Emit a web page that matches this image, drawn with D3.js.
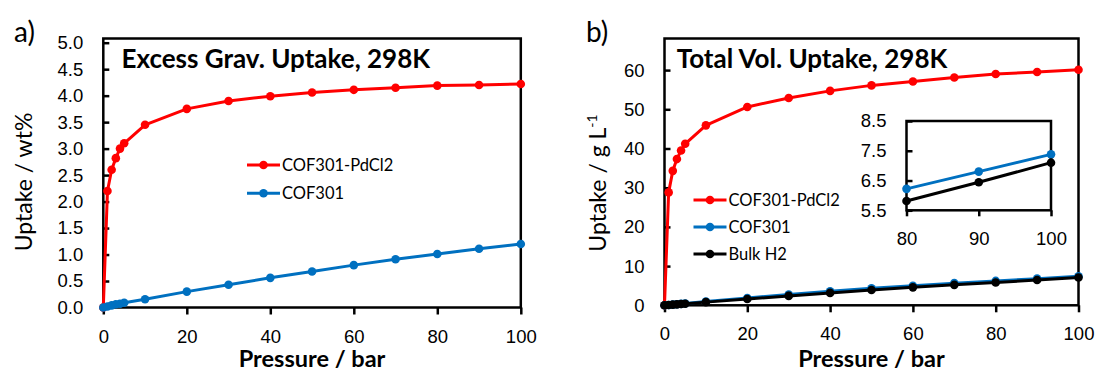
<!DOCTYPE html>
<html>
<head>
<meta charset="utf-8">
<script src="https://cdn.jsdelivr.net/npm/d3@7"></script>
<style>
  body { margin: 0; background: #fff; }
  svg { display: block; font-family: Lato, "Open Sans", sans-serif; }
</style>
</head>
<body>
<svg id="chart" width="1096" height="368"></svg>
<script>
// pressure points (bar), shared by every series
const pressure = [0, 1, 2, 3, 4, 5, 10, 20, 30, 40, 50, 60, 70, 80, 90, 100];

// a) excess gravimetric uptake, wt%
const gravPdCl2 = [0, 2.2, 2.6, 2.82, 3.0, 3.1, 3.45, 3.75, 3.9, 3.99, 4.06, 4.11, 4.15, 4.19, 4.2, 4.22];
const gravCOF301 = [0, 0.02, 0.04, 0.06, 0.07, 0.09, 0.155, 0.3, 0.43, 0.56, 0.68, 0.8, 0.91, 1.01, 1.11, 1.2];

// b) total volumetric uptake, g/L
const volPdCl2 = [0, 28.8, 34.3, 37.3, 39.5, 41.2, 45.9, 50.6, 52.9, 54.7, 56.1, 57.1, 58.1, 59.0, 59.5, 60.1];
const volCOF301 = [0, 0.09, 0.18, 0.27, 0.36, 0.45, 0.95, 1.85, 2.75, 3.6, 4.35, 5.0, 5.65, 6.22, 6.8, 7.38];
const volBulkH2 = [0, 0.08, 0.16, 0.24, 0.33, 0.41, 0.81, 1.6, 2.4, 3.16, 3.9, 4.58, 5.22, 5.81, 6.44, 7.1];

const xTicks = [0, 20, 40, 60, 80, 100];
const gravTicks = [0, 0.5, 1, 1.5, 2, 2.5, 3, 3.5, 4, 4.5, 5];
const volTicks = [0, 10, 20, 30, 40, 50, 60];
const insetXTicks = [80, 90, 100];
const insetYTicks = [5.5, 6.5, 7.5, 8.5];

const RED = "#ff0000", BLUE = "#0070c0", BLACK = "#000000";

const svg = d3.select("#chart");

function drawSeries(g, x, y, xs, ys, color, r) {
  const pts = xs.map((p, i) => [p, ys[i]]).filter(d => x.domain()[0] <= d[0]);
  g.append("path")
    .datum(pts)
    .attr("d", d3.line().x(d => x(d[0])).y(d => y(d[1])))
    .attr("fill", "none")
    .attr("stroke", color)
    .attr("stroke-width", 3)
    .attr("stroke-linejoin", "round");
  g.selectAll(null)
    .data(pts)
    .enter().append("circle")
    .attr("cx", d => x(d[0]))
    .attr("cy", d => y(d[1]))
    .attr("r", r)
    .attr("fill", color);
}

function drawLegend(g, x0, y0, gap, items) {
  items.forEach((it, i) => {
    const yy = y0 + i * gap;
    g.append("line")
      .attr("x1", x0).attr("x2", x0 + 33)
      .attr("y1", yy).attr("y2", yy)
      .attr("stroke", it.color).attr("stroke-width", 3);
    g.append("circle")
      .attr("cx", x0 + 16.5).attr("cy", yy).attr("r", 4.3)
      .attr("fill", it.color);
    g.append("text")
      .attr("x", x0 + 35).attr("y", yy + 6)
      .attr("font-size", 16.5)
      .text(it.name);
  });
}

function drawPanel(opt) {
  const g = svg.append("g");
  const x = d3.scaleLinear().domain([0, 100]).range([opt.left, opt.right]);
  const y = d3.scaleLinear().domain(opt.yDomain).range(opt.yRange);

  // x axis, ticks outside
  const xa = g.append("g")
    .attr("transform", "translate(0," + opt.yRange[0] + ")")
    .call(d3.axisBottom(x).tickValues(xTicks).tickSize(7).tickSizeOuter(0).tickPadding(15));
  xa.select(".domain").remove();
  xa.selectAll("line").attr("stroke-width", 2.5);
  xa.selectAll("text").attr("font-size", 18.5).attr("font-family", null).attr("fill", "#000");

  // y axis, ticks inside
  const ya = g.append("g")
    .attr("transform", "translate(" + opt.left + ",0)")
    .call(d3.axisLeft(y).tickValues(opt.yTicks).tickFormat(opt.yFormat).tickSize(-6).tickSizeOuter(0).tickPadding(20));
  ya.select(".domain").remove();
  ya.selectAll("line").attr("stroke-width", 2.5);
  ya.selectAll("text").attr("font-size", 18.5).attr("font-family", null).attr("fill", "#000");

  // frame
  g.append("rect")
    .attr("x", opt.left).attr("y", opt.top)
    .attr("width", opt.right - opt.left).attr("height", opt.yRange[0] - opt.top)
    .attr("fill", "none").attr("stroke", "#000").attr("stroke-width", 2.5);

  opt.series.forEach(s => drawSeries(g, x, y, pressure, s.values, s.color, 4.3));

  g.append("text")
    .attr("x", opt.titleX).attr("y", 68)
    .attr("font-size", 26).attr("font-weight", "bold")
    .text(opt.title);

  g.append("text")
    .attr("x", opt.tagX).attr("y", 42)
    .attr("font-size", 28)
    .text(opt.tag);

  g.append("text")
    .attr("x", (opt.left + opt.right) / 2).attr("y", 367)
    .attr("text-anchor", "middle")
    .attr("font-size", 23.5).attr("font-weight", "bold")
    .text("Pressure / bar");

  const yt = g.append("text")
    .attr("transform", "translate(" + opt.yLabelX + "," + opt.yLabelY + ") rotate(-90)")
    .attr("text-anchor", "middle")
    .attr("font-size", 23);
  yt.append("tspan").text(opt.yLabel);
  if (opt.yLabelSup) {
    yt.append("tspan").attr("dy", -9).attr("font-size", 14).text(opt.yLabelSup);
  }

  drawLegend(g, opt.legendX, opt.legendY, opt.legendGap, opt.series);
  return { g, x, y };
}

drawPanel({
  left: 103.3, right: 520.8, top: 38.5,
  yDomain: [0, 5], yRange: [307.5, 42.7],
  yTicks: gravTicks, yFormat: d3.format(".1f"),
  title: "Excess Grav. Uptake, 298K", titleX: 121.5,
  tag: "a)", tagX: 14,
  yLabel: "Uptake / wt%", yLabelX: 32, yLabelY: 182,
  legendX: 247, legendY: 165, legendGap: 28.3,
  series: [
    { name: "COF301-PdCl2", values: gravPdCl2, color: RED },
    { name: "COF301", values: gravCOF301, color: BLUE }
  ]
});

drawPanel({
  left: 664.5, right: 1078.5, top: 38.5,
  yDomain: [0, 60], yRange: [305.3, 70.1],
  yTicks: volTicks, yFormat: d3.format("d"),
  title: "Total Vol. Uptake, 298K", titleX: 676.7,
  tag: "b)", tagX: 586,
  yLabel: "Uptake / g L", yLabelSup: "-1", yLabelX: 606, yLabelY: 183,
  legendX: 693.5, legendY: 200, legendGap: 27,
  series: [
    { name: "COF301-PdCl2", values: volPdCl2, color: RED },
    { name: "COF301", values: volCOF301, color: BLUE },
    { name: "Bulk H2", values: volBulkH2, color: BLACK }
  ]
});

// inset: 80-100 bar close-up of panel b
(function () {
  const g = svg.append("g");
  const x = d3.scaleLinear().domain([80, 100]).range([906.5, 1051]);
  const y = d3.scaleLinear().domain([5.5, 8.5]).range([210.3, 121]);

  g.append("rect")
    .attr("x", 906.5).attr("y", 121)
    .attr("width", 1051 - 906.5).attr("height", 210.3 - 121)
    .attr("fill", "#fff").attr("stroke", "#000").attr("stroke-width", 2.5);

  const xa = g.append("g")
    .attr("transform", "translate(0,210.3)")
    .call(d3.axisBottom(x).tickValues(insetXTicks).tickSize(6).tickSizeOuter(0).tickPadding(16));
  xa.select(".domain").remove();
  xa.selectAll("line").attr("stroke-width", 2.5);
  xa.selectAll("text").attr("font-size", 18.5).attr("font-family", null).attr("fill", "#000");

  const ya = g.append("g")
    .attr("transform", "translate(906.5,0)")
    .call(d3.axisLeft(y).tickValues(insetYTicks).tickFormat(d3.format(".1f")).tickSize(-6).tickSizeOuter(0).tickPadding(20));
  ya.select(".domain").remove();
  ya.selectAll("line").attr("stroke-width", 2.5);
  ya.selectAll("text").attr("font-size", 18.5).attr("font-family", null).attr("fill", "#000");

  drawSeries(g, x, y, pressure, volCOF301, BLUE, 4.3);
  drawSeries(g, x, y, pressure, volBulkH2, BLACK, 4.3);
})();
</script>
</body>
</html>
